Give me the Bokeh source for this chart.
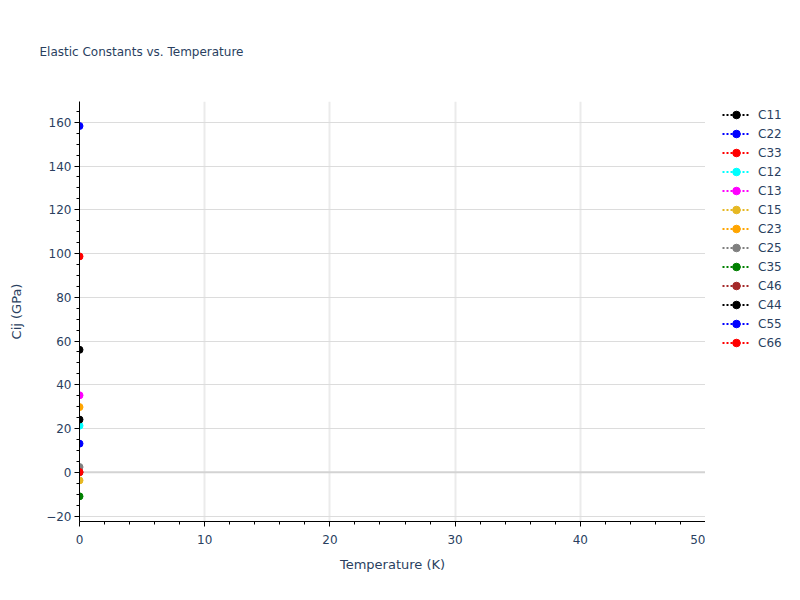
from bokeh.plotting import figure
from bokeh.layouts import row
from bokeh.models import Range1d, SingleIntervalTicker, Legend, LegendItem, Span
from bokeh.embed import file_html
from bokeh.resources import INLINE

# ---- data ----
names = ["C11", "C22", "C33", "C12", "C13", "C15", "C23", "C25", "C35", "C46", "C44", "C55", "C66"]
colors = ["black", "blue", "red", "cyan", "magenta", "#e6b822", "orange", "gray", "green", "brown", "black", "blue", "red"]
temperature = [0.0]
values = [56.0, 158.3, 98.7, 21.3, 35.2, -3.7, 29.8, 2.4, -11.0, 0.0, 24.1, 13.1, 0.1]

FONT = "DejaVu Sans"
TXT = "#2a3f5f"

p = figure(frame_width=626, frame_height=420,
           min_border_left=79, min_border_right=0, min_border_top=99, min_border_bottom=65,
           x_range=Range1d(0, 50), y_range=Range1d(-22.5, 169.5),
           output_backend="svg", toolbar_location=None,
           title="Elastic Constants vs. Temperature")
p.outline_line_color = None
p.background_fill_color = "white"

p.title.text_font = FONT
p.title.text_font_size = "12px"
p.title.text_font_style = "normal"
p.title.text_color = TXT
p.title.align = "left"
p.title.offset = -40
p.title.standoff = 85

p.xaxis.ticker = SingleIntervalTicker(interval=10, num_minor_ticks=5)
p.yaxis.ticker = SingleIntervalTicker(interval=20, num_minor_ticks=4)
for ax in (p.xaxis, p.yaxis):
    ax.axis_line_color = "black"
    ax.major_tick_line_color = "black"
    ax.minor_tick_line_color = "black"
    ax.major_tick_out = 5
    ax.major_tick_in = 0
    ax.minor_tick_out = 3
    ax.minor_tick_in = 0
    ax.major_label_text_font = FONT
    ax.major_label_text_font_size = "12px"
    ax.major_label_text_color = TXT
    ax.axis_label_text_font = FONT
    ax.axis_label_text_font_size = "13px"
    ax.axis_label_text_font_style = "normal"
    ax.axis_label_text_color = TXT
p.xaxis.axis_label = "Temperature (K)"
p.yaxis.axis_label = "Cij (GPa)"
p.xaxis.major_label_standoff = 8
p.xaxis.axis_label_standoff = 10
p.yaxis.major_label_standoff = 3
p.yaxis.axis_label_standoff = 19

p.xgrid.grid_line_color = "#ebebeb"
p.xgrid.grid_line_width = 2
p.ygrid.grid_line_color = "#dcdcdc"
p.ygrid.grid_line_width = 1
p.add_layout(Span(location=0, dimension="width", line_color="#d3d3d3", line_width=2, level="underlay"))

for name, col, val in zip(names, colors, values):
    p.line(temperature, [val], line_color=col, line_width=2, line_dash="2 2")
    p.scatter(temperature, [val], size=7, fill_color=col, line_color=col)

# ---- legend panel (separate figure to the right of the plot area) ----
# its ranges are chosen so that its own copies of the series stay out of view
lf = figure(width=80, height=584, x_range=Range1d(1, 2), y_range=Range1d(1000, 1001),
            min_border=0, output_backend="svg", toolbar_location=None,
            x_axis_location=None, y_axis_location=None)
lf.grid.visible = False
lf.outline_line_color = None

items = []
for name, col, val in zip(names, colors, values):
    r1 = lf.line(temperature, [val], line_color=col, line_width=2, line_dash="2 2")
    r2 = lf.scatter(temperature, [val], size=7, fill_color=col, line_color=col)
    items.append(LegendItem(label=name, renderers=[r1, r2]))

legend = Legend(items=items, location=(17, 167))
legend.border_line_color = None
legend.background_fill_alpha = 0
legend.padding = 0
legend.margin = 0
legend.spacing = 0
legend.label_height = 19
legend.glyph_height = 19
legend.glyph_width = 28
legend.label_standoff = 8
legend.label_text_font = FONT
legend.label_text_font_size = "12px"
legend.label_text_color = TXT
lf.add_layout(legend, "center")

layout = row(p, lf)
open("out.html", "w").write(file_html(layout, INLINE))
